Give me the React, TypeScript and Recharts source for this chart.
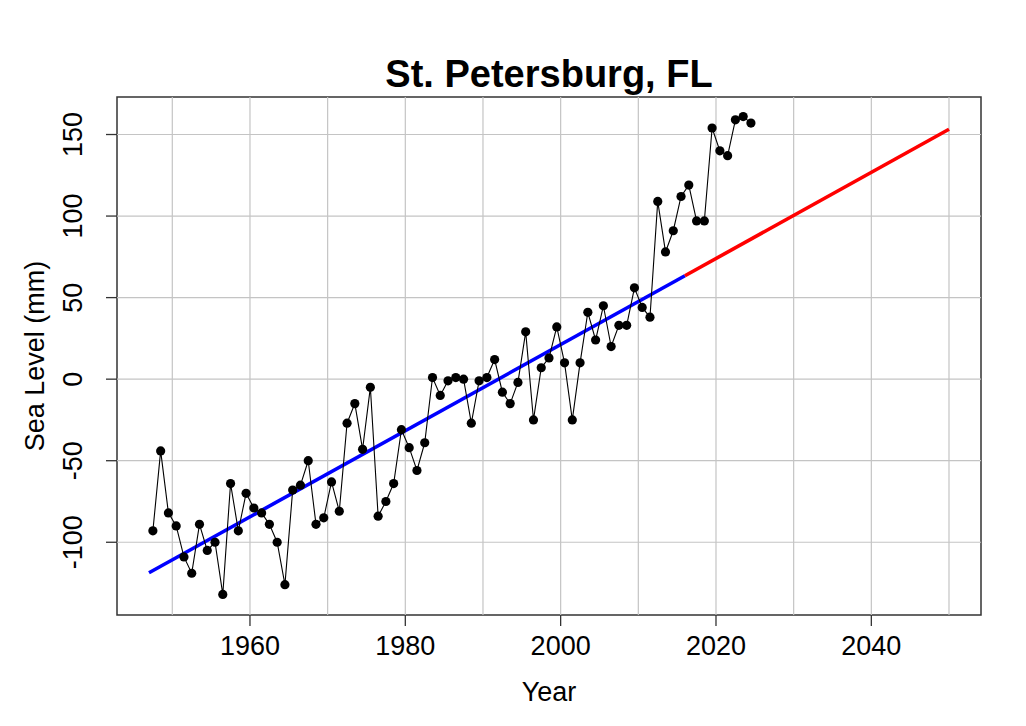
import React from 'react';
import { ComposedChart, Line, XAxis, YAxis, ReferenceLine, ReferenceArea } from 'recharts';

// Annual means, plotted at mid-year
const years = [
  1947.5, 1948.5, 1949.5, 1950.5, 1951.5, 1952.5, 1953.5, 1954.5, 1955.5, 1956.5, 1957.5, 1958.5, 1959.5,
  1960.5, 1961.5, 1962.5, 1963.5, 1964.5, 1965.5, 1966.5, 1967.5, 1968.5, 1969.5, 1970.5, 1971.5, 1972.5,
  1973.5, 1974.5, 1975.5, 1976.5, 1977.5, 1978.5, 1979.5, 1980.5, 1981.5, 1982.5, 1983.5, 1984.5, 1985.5,
  1986.5, 1987.5, 1988.5, 1989.5, 1990.5, 1991.5, 1992.5, 1993.5, 1994.5, 1995.5, 1996.5, 1997.5, 1998.5,
  1999.5, 2000.5, 2001.5, 2002.5, 2003.5, 2004.5, 2005.5, 2006.5, 2007.5, 2008.5, 2009.5, 2010.5, 2011.5,
  2012.5, 2013.5, 2014.5, 2015.5, 2016.5, 2017.5, 2018.5, 2019.5, 2020.5, 2021.5, 2022.5, 2023.5, 2024.5,
];
const seaLevel = [
  -93, -44, -82, -90, -109, -119, -89, -105, -100, -132, -64, -93, -70,
  -79, -82, -89, -100, -126, -68, -65, -50, -89, -85, -63, -81, -27,
  -15, -43, -5, -84, -75, -64, -31, -42, -56, -39, 1, -10, -1,
  1, 0, -27, -1, 1, 12, -8, -15, -2, 29, -25, 7, 13,
  32, 10, -25, 10, 41, 24, 45, 20, 33, 33, 56, 44, 38,
  109, 78, 91, 112, 119, 97, 97, 154, 140, 137, 159, 161, 157,
];

const fitYears = [1947, 2016];
const fitValues = [-118.7, 63.4];
const projYears = [2016, 2050];
const projValues = [63.4, 153.2];

const xTicks = [1960, 1980, 2000, 2020, 2040];
const yTicks = [-100, -50, 0, 50, 100, 150];
const gridYears = [1950, 1960, 1970, 1980, 1990, 2000, 2010, 2020, 2030, 2040, 2050];
const gridValues = [-100, -50, 0, 50, 100, 150];
const xDomain = [1942.88, 2054.12];
const yDomain = [-144.6, 173];

const title = 'St. Petersburg, FL';
const xLabel = 'Year';
const yLabel = 'Sea Level (mm)';

const observed = years.map((y, i) => ({ year: y, v: seaLevel[i] }));
const fitted = fitYears.map((y, i) => ({ year: y, v: fitValues[i] }));
const projected = projYears.map((y, i) => ({ year: y, v: projValues[i] }));

const FONT = '"Liberation Sans", Arial, sans-serif';

const XTick = (props: any) => {
  const { x, y, payload } = props;
  return (
    <text x={x} y={y} dy="0.71em" textAnchor="middle" fontFamily={FONT} fontSize={27} fill="#000">
      {payload.value}
    </text>
  );
};

const YTick = (props: any) => {
  const { x, y, payload } = props;
  return (
    <text
      x={x}
      y={y}
      transform={`rotate(-90, ${x}, ${y})`}
      textAnchor="middle"
      fontFamily={FONT}
      fontSize={27}
      fill="#000"
    >
      {payload.value}
    </text>
  );
};

export default function App() {
  return (
    <div style={{ position: 'absolute', left: 0, top: 0, width: 1026, height: 726, background: '#fff' }}>
      <div
        style={{
          position: 'absolute',
          left: 0,
          width: 1098,
          top: 52,
          textAlign: 'center',
          fontFamily: FONT,
          fontWeight: 'bold',
          fontSize: 38,
          lineHeight: '44px',
          color: '#000',
        }}
      >
        {title}
      </div>
      <ComposedChart
        width={1026}
        height={726}
        margin={{ top: 97, right: 45, bottom: 81, left: 57 }}
        style={{ position: 'absolute', left: 0, top: 0 }}
      >
        <XAxis
          dataKey="year"
          type="number"
          domain={xDomain}
          allowDataOverflow
          ticks={xTicks}
          axisLine={false}
          tickSize={11}
          tickMargin={10}
          tickLine={{ stroke: '#333', strokeWidth: 1.3 }}
          tick={<XTick />}
          height={30}
          label={{
            content: (p: any) => {
              const vb = p.viewBox;
              return (
                <text x={vb.x + vb.width / 2} y={vb.y + 86} textAnchor="middle" fontFamily={FONT} fontSize={27} fill="#000">
                  {xLabel}
                </text>
              );
            },
          }}
        />
        <YAxis
          type="number"
          domain={yDomain}
          allowDataOverflow
          ticks={yTicks}
          axisLine={false}
          tickSize={11}
          tickMargin={24}
          tickLine={{ stroke: '#333', strokeWidth: 1.3 }}
          tick={<YTick />}
          width={60}
          label={{
            content: (p: any) => {
              const vb = p.viewBox;
              const cx = vb.x - 13;
              const cy = vb.y + vb.height / 2;
              return (
                <text
                  x={cx}
                  y={cy}
                  transform={`rotate(-90, ${cx}, ${cy})`}
                  textAnchor="middle"
                  fontFamily={FONT}
                  fontSize={27}
                  fill="#000"
                >
                  {yLabel}
                </text>
              );
            },
          }}
        />
        {gridYears.map((g) => (
          <ReferenceLine key={'gx' + g} x={g} stroke="#c4c4c4" strokeWidth={1.2} />
        ))}
        {gridValues.map((g) => (
          <ReferenceLine key={'gy' + g} y={g} stroke="#c4c4c4" strokeWidth={1.2} />
        ))}
        <ReferenceArea
          x1={xDomain[0]}
          x2={xDomain[1]}
          y1={yDomain[0]}
          y2={yDomain[1]}
          fill="none"
          fillOpacity={0}
          stroke="#333"
          strokeWidth={1.5}
        />
        <Line
          data={fitted}
          dataKey="v"
          stroke="#0000ff"
          strokeWidth={3.6}
          dot={false}
          activeDot={false}
          isAnimationActive={false}
        />
        <Line
          data={projected}
          dataKey="v"
          stroke="#ff0000"
          strokeWidth={3.6}
          dot={false}
          activeDot={false}
          isAnimationActive={false}
        />
        <Line
          data={observed}
          dataKey="v"
          stroke="#000"
          strokeWidth={1.1}
          dot={{ r: 4.6, fill: '#000', stroke: '#000', strokeWidth: 0 }}
          activeDot={false}
          isAnimationActive={false}
        />
      </ComposedChart>
    </div>
  );
}
